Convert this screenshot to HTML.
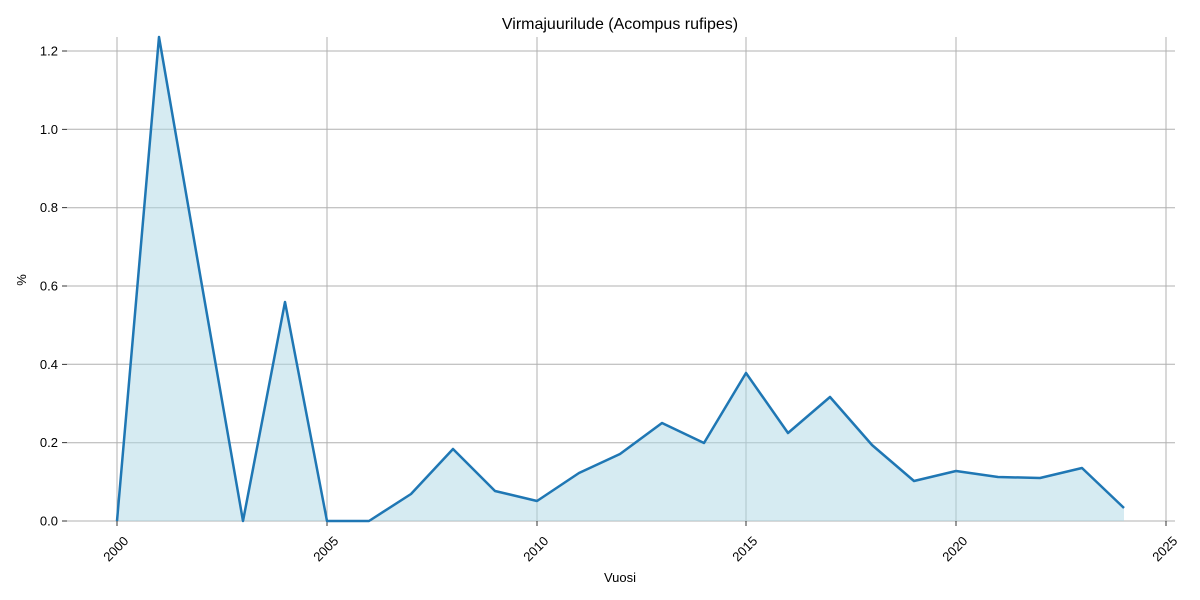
<!DOCTYPE html>
<html><head><meta charset="utf-8"><style>
html,body{margin:0;padding:0;background:#fff;}
svg{display:block;font-family:"Liberation Sans",sans-serif;}
</style></head><body>
<svg width="1200" height="600" viewBox="0 0 1200 600">
<rect width="1200" height="600" fill="#fff"/>
<g stroke="#b0b0b0" stroke-width="1">
<line x1="67" y1="521" x2="1175" y2="521"/>
<line x1="67" y1="442.7" x2="1175" y2="442.7"/>
<line x1="67" y1="364.3" x2="1175" y2="364.3"/>
<line x1="67" y1="286" x2="1175" y2="286"/>
<line x1="67" y1="207.7" x2="1175" y2="207.7"/>
<line x1="67" y1="129.3" x2="1175" y2="129.3"/>
<line x1="67" y1="51" x2="1175" y2="51"/>
<line x1="117" y1="37" x2="117" y2="521"/>
<line x1="327" y1="37" x2="327" y2="521"/>
<line x1="537" y1="37" x2="537" y2="521"/>
<line x1="746" y1="37" x2="746" y2="521"/>
<line x1="956" y1="37" x2="956" y2="521"/>
<line x1="1166" y1="37" x2="1166" y2="521"/>
</g>
<g stroke="#000" stroke-width="0.8">
<line x1="62" y1="521" x2="67" y2="521"/>
<line x1="62" y1="442.7" x2="67" y2="442.7"/>
<line x1="62" y1="364.3" x2="67" y2="364.3"/>
<line x1="62" y1="286" x2="67" y2="286"/>
<line x1="62" y1="207.7" x2="67" y2="207.7"/>
<line x1="62" y1="129.3" x2="67" y2="129.3"/>
<line x1="62" y1="51" x2="67" y2="51"/>
<line x1="117" y1="521" x2="117" y2="526"/>
<line x1="327" y1="521" x2="327" y2="526"/>
<line x1="537" y1="521" x2="537" y2="526"/>
<line x1="746" y1="521" x2="746" y2="526"/>
<line x1="956" y1="521" x2="956" y2="526"/>
<line x1="1166" y1="521" x2="1166" y2="526"/>
</g>
<polygon fill="#add8e6" fill-opacity="0.5" points="117,521 159,37 201,280 243,521 285,302 327,521 369,521 411,494 453,449 495,491 537,501 579,473 620,454 662,423 704,443 746,373 788,433 830,397 872,445 914,481 956,471 998,477 1040,478 1082,468 1124,508 1124,521"/>
<polyline fill="none" stroke="#1f77b4" stroke-width="2.5" stroke-linejoin="round" points="117,521 159,37 201,280 243,521 285,302 327,521 369,521 411,494 453,449 495,491 537,501 579,473 620,454 662,423 704,443 746,373 788,433 830,397 872,445 914,481 956,471 998,477 1040,478 1082,468 1124,508"/>
<g font-size="13" fill="#000" text-anchor="end">
<text x="58" y="525.5">0.0</text>
<text x="58" y="447.2">0.2</text>
<text x="58" y="368.8">0.4</text>
<text x="58" y="290.5">0.6</text>
<text x="58" y="212.2">0.8</text>
<text x="58" y="133.8">1.0</text>
<text x="58" y="55.5">1.2</text>
</g>
<g font-size="13" fill="#000" text-anchor="middle">
<text transform="translate(119,552) rotate(-45)">2000</text>
<text transform="translate(329,552) rotate(-45)">2005</text>
<text transform="translate(539,552) rotate(-45)">2010</text>
<text transform="translate(748,552) rotate(-45)">2015</text>
<text transform="translate(958,552) rotate(-45)">2020</text>
<text transform="translate(1168,552) rotate(-45)">2025</text>
</g>
<text x="620" y="582" font-size="13" text-anchor="middle">Vuosi</text>
<text transform="translate(26,280) rotate(-90)" font-size="13" text-anchor="middle">%</text>
<text x="620" y="29" font-size="16" text-anchor="middle">Virmajuurilude (Acompus rufipes)</text>
</svg>
</body></html>
